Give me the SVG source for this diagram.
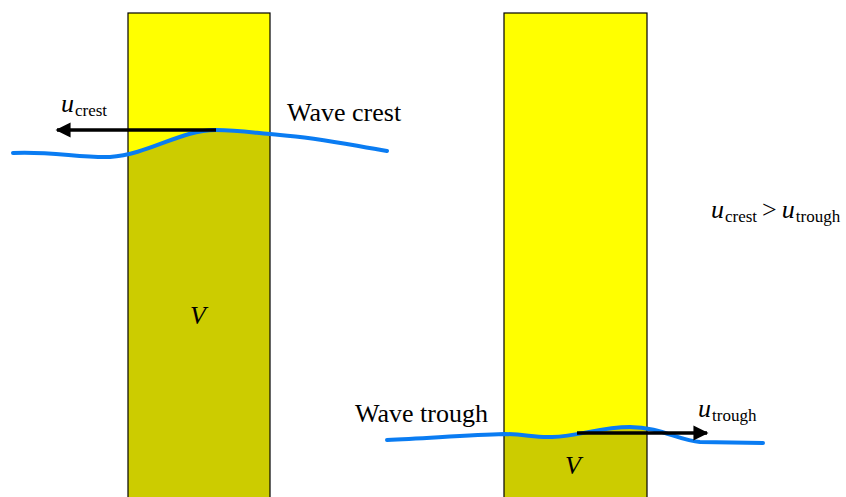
<svg xmlns="http://www.w3.org/2000/svg" width="846" height="497" viewBox="0 0 846 497">
<style>
.bright{fill:#FFFF00;}
.dark{fill:#CCCC00;}
.frame{fill:none;stroke:#000;stroke-width:1.2;}
.wave{fill:none;stroke:#0A7CF2;stroke-width:4;stroke-linecap:round;}
.arr{fill:none;stroke:#000;stroke-width:3.5;}
.lbl{font-size:26px;}
.it{font-style:italic;font-size:26px;}
.sub{font-size:17px;}
</style>
<defs>
<marker id="ah" viewBox="0 0 10 10" refX="9" refY="5" markerWidth="4.3" markerHeight="4.3" orient="auto" markerUnits="strokeWidth">
<path d="M0,0 L10,5 L0,10 z" fill="#000"/>
</marker>
<clipPath id="c1"><rect x="128" y="13" width="142" height="490"/></clipPath>
<clipPath id="c2"><rect x="504" y="13" width="143" height="490"/></clipPath>
</defs>
<g id="column-left">
<rect class="bright" x="128" y="13" width="142" height="490"/>
<path class="dark" clip-path="url(#c1)" d="M13,153 C50,151 80,158 110,157 C150,154 180,130 216,130 C240,130 255,133 280,135 C320,138 350,145 387,151 L387,500 L13,500 Z"/>
<rect class="frame" x="128" y="13" width="142" height="490"/>
<text class="it" x="198" y="324" text-anchor="middle" font-family="'Liberation Serif','Times New Roman',serif">V</text>
</g>
<g id="column-right">
<rect class="bright" x="504" y="13" width="143" height="490"/>
<path class="dark" clip-path="url(#c2)" d="M387,440 C430,438 470,435 504,434 C525,434 535,438 552,437 C580,436 600,427 630,427 C660,427 680,441 700,442 L763,443 L763,500 L387,500 Z"/>
<rect class="frame" x="504" y="13" width="143" height="490"/>
<text class="it" x="573" y="474" text-anchor="middle" font-family="'Liberation Serif','Times New Roman',serif">V</text>
</g>
<g id="connectors">
<path class="wave" d="M13,153 C50,151 80,158 110,157 C150,154 180,130 216,130 C240,130 255,133 280,135 C320,138 350,145 387,151"/>
<path class="wave" d="M387,440 C430,438 470,435 504,434 C525,434 535,438 552,437 C580,436 600,427 630,427 C660,427 680,441 700,442 L763,443"/>
<line class="arr" x1="216" y1="130" x2="57" y2="130" marker-end="url(#ah)"/>
<line class="arr" x1="577" y1="433" x2="707" y2="433" marker-end="url(#ah)"/>
</g>
<g id="labels" font-family="'Liberation Serif','Times New Roman',serif">
<text class="lbl" x="287" y="121">Wave crest</text>
<text class="lbl" x="355" y="422">Wave trough</text>
<text x="61" y="112"><tspan class="it">u</tspan><tspan class="sub" dx="1" dy="4">crest</tspan></text>
<text x="698" y="417"><tspan class="it">u</tspan><tspan class="sub" dx="1" dy="4">trough</tspan></text>
<text x="711" y="218"><tspan class="it">u</tspan><tspan class="sub" dx="1" dy="4">crest</tspan><tspan class="lbl" dx="5" dy="-4">&gt;</tspan><tspan class="it" dx="5">u</tspan><tspan class="sub" dx="1" dy="4">trough</tspan></text>
</g>
</svg>
